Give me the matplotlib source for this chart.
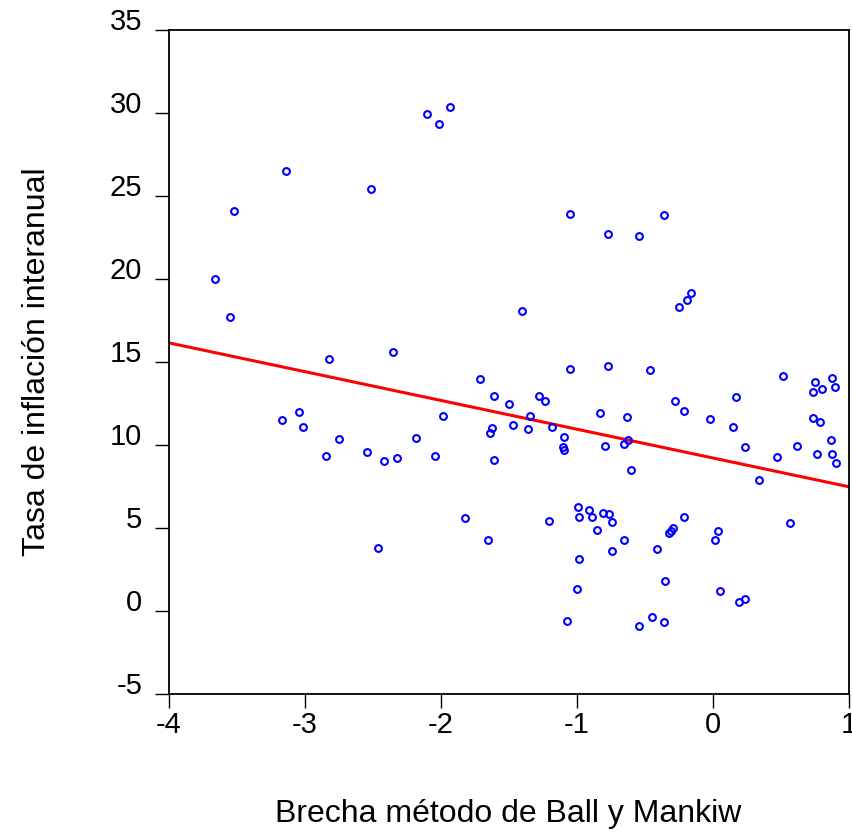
import numpy as np
import matplotlib
matplotlib.use("Agg")
import matplotlib.pyplot as plt

plt.rcParams['font.family'] = ['Liberation Sans', 'DejaVu Sans']

# brecha (x) vs tasa de inflacion interanual (y)
brecha = [-2.10, -2.01, -1.93, -3.14, -2.51, -3.52, -3.66, -3.55, -2.82, -2.35,
          -1.05, -0.77, -0.54, -0.36, -1.40, -0.25, -0.19, -0.16, -1.71, -1.61,
          -1.98, -3.04, -3.17, -3.01, -2.75, -2.18, -1.62, -1.64, -2.84, -2.54,
          -2.42, -2.32, -2.04, -1.61, -1.82, -1.65, -2.46, -1.05, -0.77, -0.46,
          0.52, 0.75, 0.88, 0.74, 0.80, 0.90, -1.50, -1.28, -1.23, -1.34,
          -1.47, -1.36, -1.18, -1.09, -1.10, -1.09, -0.83, -0.63, -0.28, -0.21,
          0.17, -0.02, 0.15, 0.74, 0.79, 0.87, -0.79, -0.65, -0.62, 0.24,
          0.47, 0.62, 0.77, 0.88, 0.91, -0.60, 0.34, 0.57, -1.20, -0.99,
          -0.91, -0.81, -0.76, -0.98, -0.89, -0.74, -0.85, -0.65, -0.74, -0.41,
          -0.21, -0.29, -0.31, -0.32, 0.04, 0.02, -0.98, -0.35, -1.00, 0.05,
          0.19, 0.24, -1.07, -0.54, -0.45, -0.36]
inflacion = [29.94, 29.32, 30.38, 26.52, 25.42, 24.10, 20.02, 17.69, 15.20, 15.58,
             23.90, 22.69, 22.61, 23.86, 18.07, 18.31, 18.75, 19.18, 13.96, 12.95,
             11.73, 11.97, 11.51, 11.07, 10.34, 10.44, 11.04, 10.74, 9.32, 9.56,
             9.02, 9.20, 9.32, 9.08, 5.58, 4.26, 3.82, 14.58, 14.78, 14.54,
             14.16, 13.81, 14.04, 13.17, 13.36, 13.49, 12.47, 12.97, 12.67, 11.73,
             11.22, 10.94, 11.10, 10.46, 9.90, 9.72, 11.93, 11.71, 12.67, 12.05,
             12.87, 11.55, 11.07, 11.65, 11.39, 10.32, 9.94, 10.04, 10.28, 9.86,
             9.26, 9.96, 9.46, 9.46, 8.92, 8.49, 7.91, 5.28, 5.40, 6.25,
             6.10, 5.90, 5.82, 5.66, 5.66, 5.36, 4.90, 4.30, 3.61, 3.73,
             5.66, 4.98, 4.84, 4.72, 4.82, 4.26, 3.13, 1.79, 1.33, 1.19,
             0.52, 0.70, -0.58, -0.88, -0.36, -0.66]

# recta de regresion
intercepto = 9.22
pendiente = -1.734

x_ticks = [-4, -3, -2, -1, 0, 1]
y_ticks = [-5, 0, 5, 10, 15, 20, 25, 30, 35]

fig = plt.figure(figsize=(8.53, 8.32), dpi=100)
ax = fig.add_axes([0.1977, 0.1659, 0.7973, 0.798])

ax.plot(brecha, inflacion, 'o', mfc='none', mec='blue', ms=4.9, mew=1.5, zorder=3)
xl = np.array([-4, 1])
ax.plot(xl, intercepto + pendiente * xl, color='red', lw=2.2, zorder=2)

ax.set_xlim(-4, 1)
ax.set_ylim(-5, 35)
ax.set_xticks(x_ticks)
ax.set_yticks(y_ticks)
ax.set_xticklabels([str(t) for t in x_ticks])
ax.set_yticklabels([str(t) for t in y_ticks])
ax.tick_params(axis='both', direction='out', length=10, width=1, labelsize=21)
ax.tick_params(axis='x', pad=2)
ax.tick_params(axis='y', pad=9)
for lab in ax.get_yticklabels():
    lab.set_verticalalignment('baseline')
for s in ax.spines.values():
    s.set_linewidth(1.3)

ax.set_xlabel("Brecha método de Ball y Mankiw", fontsize=23)
ax.xaxis.set_label_coords(0.5, -0.158)
ax.set_ylabel("Tasa de inflación interanual", fontsize=23)
ax.yaxis.label.set_verticalalignment('center')
ax.yaxis.set_label_coords(-0.1935, 0.5)

plt.savefig("out.png", dpi=100)
